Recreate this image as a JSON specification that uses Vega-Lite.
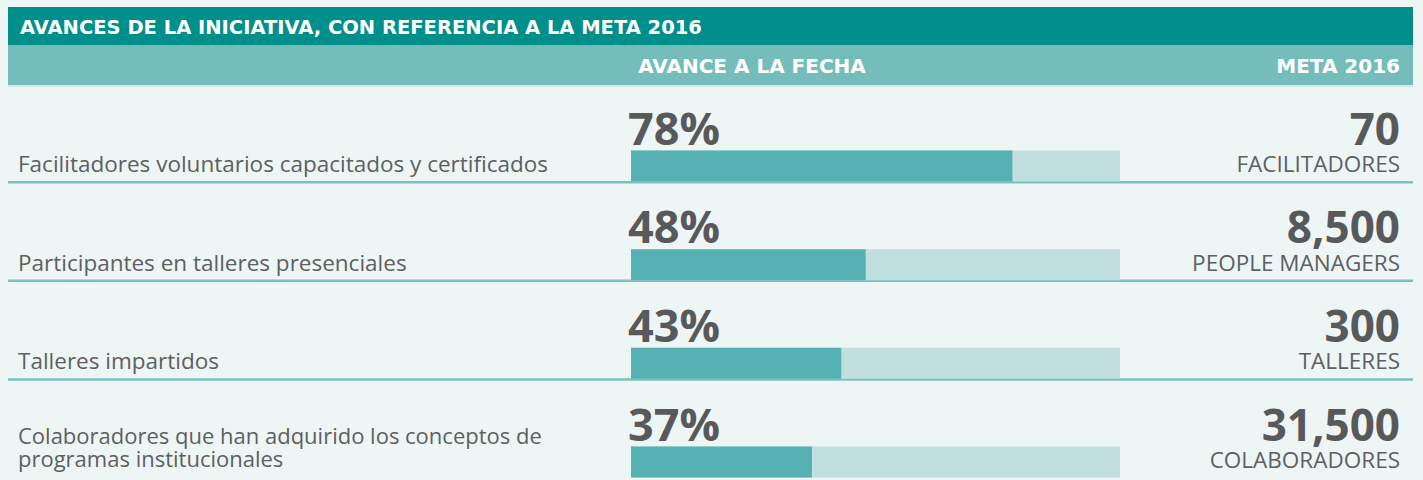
{
  "$schema": "https://vega.github.io/schema/vega-lite/v6.json",
  "width": 1423,
  "height": 480,
  "padding": 0,
  "autosize": {"type": "none"},
  "background": "#eef6f5",
  "config": {"view": {"stroke": null}, "text": {"font": "Open Sans"}},
  "data": {
    "values": [
      {"orden": 1, "indicador": "Facilitadores voluntarios capacitados y certificados", "avance": 0.78, "meta": 70, "unidad": "FACILITADORES"},
      {"orden": 2, "indicador": "Participantes en talleres presenciales", "avance": 0.48, "meta": 8500, "unidad": "PEOPLE MANAGERS"},
      {"orden": 3, "indicador": "Talleres impartidos", "avance": 0.43, "meta": 300, "unidad": "TALLERES"},
      {"orden": 4, "indicador": ["Colaboradores que han adquirido los conceptos de", "programas institucionales"], "avance": 0.37, "meta": 31500, "unidad": "COLABORADORES"}
    ]
  },
  "layer": [
    {
      "data": {"values": [{"banda": "titulo"}]},
      "mark": {"type": "rect", "color": "#008f8a"},
      "encoding": {
        "x": {"datum": -1.274, "type": "quantitative", "scale": {"domain": [0, 1], "range": [631, 1120], "nice": false, "zero": false, "padding": 0}, "axis": null},
        "x2": {"datum": 1.5992},
        "y": {"datum": -0.6115, "type": "quantitative", "scale": {"domain": [1, 4], "range": [166, 462], "nice": false, "zero": false, "padding": 0}, "axis": null},
        "y2": {"datum": -0.2264}
      }
    },
    {
      "data": {"values": [{"banda": "columnas"}]},
      "mark": {"type": "rect", "color": "#74bdbb"},
      "encoding": {
        "x": {"datum": -1.274, "type": "quantitative"},
        "x2": {"datum": 1.5992},
        "y": {"datum": -0.2264, "type": "quantitative"},
        "y2": {"datum": 0.1791}
      }
    },
    {
      "data": {"values": [{"banda": "borde"}]},
      "mark": {"type": "rule", "color": "#cde5e4", "strokeWidth": 1.5},
      "encoding": {
        "x": {"datum": -1.274, "type": "quantitative"},
        "x2": {"datum": 1.5992},
        "y": {"datum": 0.1893, "type": "quantitative"}
      }
    },
    {
      "data": {"values": [{"t": "AVANCES DE LA INICIATIVA, CON REFERENCIA A LA META 2016"}]},
      "mark": {"type": "text", "align": "left", "baseline": "alphabetic", "font": "DejaVu Sans", "fontSize": 19.5, "fontWeight": "bold", "color": "#ffffff"},
      "encoding": {
        "x": {"datum": -1.2495, "type": "quantitative"},
        "y": {"datum": -0.3429, "type": "quantitative"},
        "text": {"field": "t"}
      }
    },
    {
      "data": {"values": [{"t": "AVANCE A LA FECHA"}]},
      "mark": {"type": "text", "align": "center", "baseline": "alphabetic", "font": "DejaVu Sans", "fontSize": 20, "fontWeight": "bold", "color": "#ffffff"},
      "encoding": {
        "x": {"datum": 0.2474, "type": "quantitative"},
        "y": {"datum": 0.0574, "type": "quantitative"},
        "text": {"field": "t"}
      }
    },
    {
      "data": {"values": [{"t": "META 2016"}]},
      "mark": {"type": "text", "align": "right", "baseline": "alphabetic", "font": "DejaVu Sans", "fontSize": 20, "fontWeight": "bold", "color": "#ffffff"},
      "encoding": {
        "x": {"datum": 1.5726, "type": "quantitative"},
        "y": {"datum": 0.0574, "type": "quantitative"},
        "text": {"field": "t"}
      }
    },
    {
      "transform": [{"filter": "datum.orden < 4"}],
      "mark": {"type": "rule", "color": "#79c1bf", "strokeWidth": 2.5, "yOffset": 16.2},
      "encoding": {
        "x": {"datum": -1.274, "type": "quantitative"},
        "x2": {"datum": 1.5992},
        "y": {"field": "orden", "type": "quantitative"}
      }
    },
    {
      "mark": {"type": "bar", "color": "#c1dfdf", "height": 31},
      "encoding": {
        "x": {"datum": 0, "type": "quantitative"},
        "x2": {"datum": 1},
        "y": {"field": "orden", "type": "quantitative"}
      }
    },
    {
      "mark": {"type": "bar", "color": "#55b1b2", "height": 31},
      "encoding": {
        "x": {"field": "avance", "type": "quantitative"},
        "x2": {"datum": 0},
        "y": {"field": "orden", "type": "quantitative"}
      }
    },
    {
      "mark": {"type": "text", "align": "left", "baseline": "alphabetic", "fontSize": 45, "fontWeight": "bold", "color": "#58595b", "dx": -3, "dy": -21.5},
      "encoding": {
        "x": {"datum": 0, "type": "quantitative"},
        "y": {"field": "orden", "type": "quantitative"},
        "text": {"field": "avance", "type": "quantitative", "format": ".0%"}
      }
    },
    {
      "mark": {"type": "text", "align": "right", "baseline": "alphabetic", "fontSize": 44, "fontWeight": "bold", "color": "#58595b", "dy": -21.5},
      "encoding": {
        "x": {"datum": 1.5726, "type": "quantitative"},
        "y": {"field": "orden", "type": "quantitative"},
        "text": {"field": "meta", "type": "quantitative", "format": ",d"}
      }
    },
    {
      "mark": {"type": "text", "align": "right", "baseline": "alphabetic", "fontSize": 22.5, "color": "#5d5f61", "dy": 6},
      "encoding": {
        "x": {"datum": 1.5726, "type": "quantitative"},
        "y": {"field": "orden", "type": "quantitative"},
        "text": {"field": "unidad"}
      }
    },
    {
      "transform": [{"filter": "datum.orden < 4"}],
      "mark": {"type": "text", "align": "left", "baseline": "alphabetic", "fontSize": 22.5, "color": "#5d5f61", "dy": 6},
      "encoding": {
        "x": {"datum": -1.2536, "type": "quantitative"},
        "y": {"field": "orden", "type": "quantitative"},
        "text": {"field": "indicador"}
      }
    },
    {
      "transform": [{"filter": "datum.orden == 4"}],
      "mark": {"type": "text", "align": "left", "baseline": "alphabetic", "fontSize": 22, "lineHeight": 23, "color": "#5d5f61", "dy": -18},
      "encoding": {
        "x": {"datum": -1.2536, "type": "quantitative"},
        "y": {"field": "orden", "type": "quantitative"},
        "text": {"field": "indicador"}
      }
    }
  ]
}
